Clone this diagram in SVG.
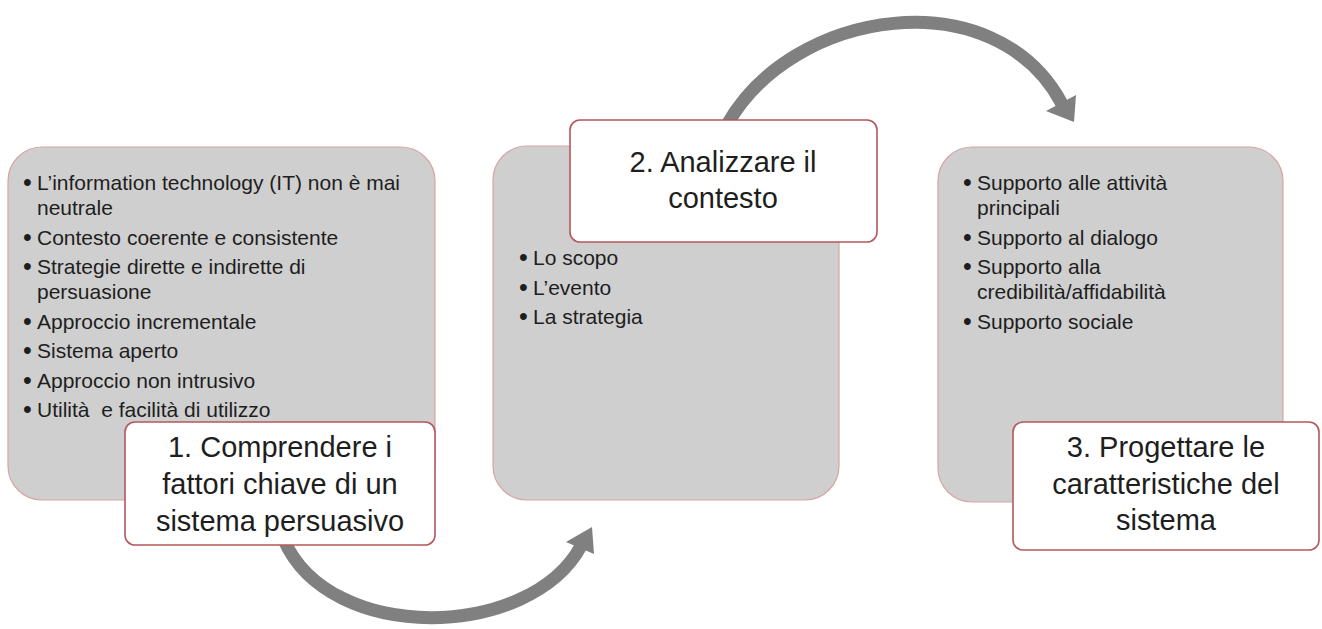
<svg xmlns="http://www.w3.org/2000/svg" width="1322" height="629" viewBox="0 0 1322 629">
<style>
.panel{fill:#cfcfcf;stroke:#d9a3a5;stroke-width:1.2}
.label{fill:#ffffff;stroke:#b5575c;stroke-width:1.6}
.bul{font-family:"Liberation Sans",Arial,sans-serif;font-size:21px;fill:#1e1e1e}
.dot{font-family:"Liberation Sans",Arial,sans-serif;font-size:25px;fill:#1e1e1e}
.ttl{font-family:"Liberation Sans",Arial,sans-serif;font-size:29px;fill:#1e1e1e;text-anchor:middle}
.arc{fill:none;stroke:#808080;stroke-width:13}
.head{fill:#808080}
</style>
<rect width="1322" height="629" fill="#ffffff"/>
<g id="connectors">
  <path class="arc" d="M284,540 C330,645 530,640 581,546"/>
  <polygon class="head" points="566,542 592,527 594,554"/>
  <path class="arc" d="M727,125 C792,8 995,-22 1062,104"/>
  <polygon class="head" points="1046,111 1076,95 1074,122"/>
</g>
<g id="node1">
  <rect class="panel" x="8" y="147" width="427" height="353" rx="34"/>
  <text class="dot" x="23" y="191">•</text>
  <text class="bul" x="37" y="190">L’information technology (IT) non è mai</text>
  <text class="bul" x="37" y="215">neutrale</text>
  <text class="dot" x="23" y="245.5">•</text>
  <text class="bul" x="37" y="244.5">Contesto coerente e consistente</text>
  <text class="dot" x="23" y="275">•</text>
  <text class="bul" x="37" y="274">Strategie dirette e indirette di</text>
  <text class="bul" x="37" y="299">persuasione</text>
  <text class="dot" x="23" y="329.5">•</text>
  <text class="bul" x="37" y="328.5">Approccio incrementale</text>
  <text class="dot" x="23" y="359">•</text>
  <text class="bul" x="37" y="358">Sistema aperto</text>
  <text class="dot" x="23" y="388.5">•</text>
  <text class="bul" x="37" y="387.5">Approccio non intrusivo</text>
  <text class="dot" x="23" y="418">•</text>
  <text class="bul" x="37" y="417" xml:space="preserve">Utilità  e facilità di utilizzo</text>
  <rect class="label" x="125" y="422" width="310" height="123" rx="10"/>
  <text class="ttl" x="280" y="457">1. Comprendere i</text>
  <text class="ttl" x="280" y="494">fattori chiave di un</text>
  <text class="ttl" x="280" y="531">sistema persuasivo</text>
</g>
<g id="node2">
  <rect class="panel" x="493" y="146" width="346" height="354" rx="34"/>
  <text class="dot" x="519" y="266">•</text>
  <text class="bul" x="533" y="265">Lo scopo</text>
  <text class="dot" x="519" y="295.5">•</text>
  <text class="bul" x="533" y="294.5">L’evento</text>
  <text class="dot" x="519" y="325">•</text>
  <text class="bul" x="533" y="324">La strategia</text>
  <rect class="label" x="570" y="120" width="307" height="122" rx="10"/>
  <text class="ttl" x="723" y="172">2. Analizzare il</text>
  <text class="ttl" x="723" y="208">contesto</text>
</g>
<g id="node3">
  <rect class="panel" x="938" y="147" width="345" height="355" rx="34"/>
  <text class="dot" x="963" y="191">•</text>
  <text class="bul" x="977" y="190">Supporto alle attività</text>
  <text class="bul" x="977" y="215">principali</text>
  <text class="dot" x="963" y="245.5">•</text>
  <text class="bul" x="977" y="244.5">Supporto al dialogo</text>
  <text class="dot" x="963" y="275">•</text>
  <text class="bul" x="977" y="274">Supporto alla</text>
  <text class="bul" x="977" y="299">credibilità/affidabilità</text>
  <text class="dot" x="963" y="329.5">•</text>
  <text class="bul" x="977" y="328.5">Supporto sociale</text>
  <rect class="label" x="1013" y="422" width="306" height="128" rx="10"/>
  <text class="ttl" x="1166" y="457">3. Progettare le</text>
  <text class="ttl" x="1166" y="494">caratteristiche del</text>
  <text class="ttl" x="1166" y="530">sistema</text>
</g>
</svg>
